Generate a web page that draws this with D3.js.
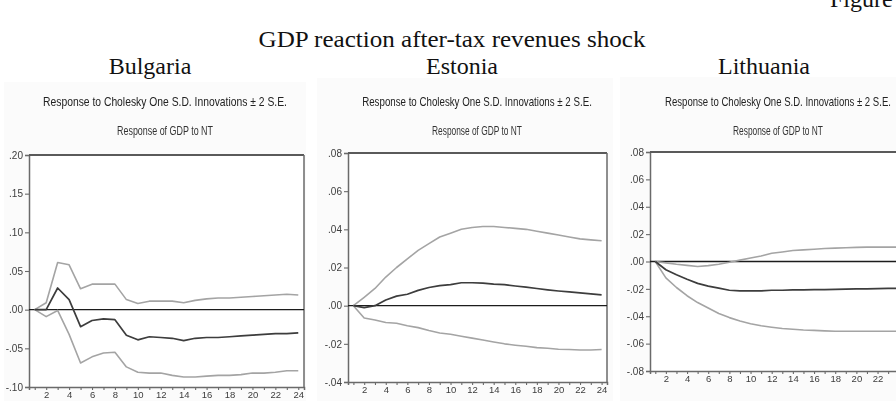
<!DOCTYPE html>
<html>
<head>
<meta charset="utf-8">
<script src="https://cdn.jsdelivr.net/npm/d3@7"></script>
<style>
  html, body { margin: 0; padding: 0; background: #fff; }
  svg { display: block; }
</style>
</head>
<body>
<svg id="fig" width="896" height="401"></svg>
<script>
// Impulse response horizon (periods)
const periods = [1,2,3,4,5,6,7,8,9,10,11,12,13,14,15,16,17,18,19,20,21,22,23,24];

// Bulgaria: response of GDP to NT with +/- 2 S.E. bands
const bgResponse = [0.000,0.000,0.028,0.013,-0.022,-0.014,-0.012,-0.013,-0.033,-0.039,-0.035,-0.036,-0.037,-0.040,-0.037,-0.036,-0.036,-0.035,-0.034,-0.033,-0.032,-0.031,-0.031,-0.030];
const bgUpper    = [0.000,0.009,0.061,0.058,0.027,0.033,0.033,0.033,0.013,0.008,0.011,0.011,0.011,0.009,0.012,0.014,0.015,0.015,0.016,0.017,0.018,0.019,0.020,0.019];
const bgLower    = [0.000,-0.009,-0.001,-0.032,-0.069,-0.061,-0.056,-0.055,-0.074,-0.081,-0.082,-0.082,-0.085,-0.087,-0.087,-0.086,-0.085,-0.085,-0.084,-0.082,-0.082,-0.081,-0.079,-0.079];

// Estonia
const eeResponse = [0.000,-0.001,0.000,0.003,0.005,0.006,0.008,0.0095,0.0105,0.011,0.012,0.012,0.0118,0.0113,0.011,0.0103,0.0097,0.009,0.0083,0.0077,0.0072,0.0067,0.0062,0.0057];
const eeUpper    = [0.000,0.0044,0.009,0.015,0.020,0.0245,0.029,0.0325,0.036,0.038,0.040,0.041,0.0415,0.0415,0.041,0.0405,0.040,0.039,0.038,0.037,0.036,0.035,0.0345,0.034];
const eeLower    = [0.000,-0.0065,-0.0075,-0.0088,-0.0092,-0.0105,-0.0115,-0.013,-0.0143,-0.015,-0.016,-0.017,-0.018,-0.019,-0.020,-0.0207,-0.0213,-0.022,-0.0223,-0.0228,-0.023,-0.0232,-0.0232,-0.023];

// Lithuania
const ltResponse = [0.000,-0.006,-0.0097,-0.013,-0.016,-0.018,-0.0195,-0.021,-0.0215,-0.0215,-0.0215,-0.021,-0.021,-0.0208,-0.0207,-0.0205,-0.0205,-0.0203,-0.0202,-0.020,-0.020,-0.0198,-0.0197,-0.0197];
const ltUpper    = [0.000,-0.001,-0.002,-0.0028,-0.0036,-0.003,-0.002,-0.0006,0.001,0.0025,0.004,0.006,0.007,0.008,0.0085,0.009,0.0095,0.0098,0.010,0.0103,0.0105,0.0105,0.0105,0.0105];
const ltLower    = [0.000,-0.012,-0.019,-0.025,-0.030,-0.034,-0.038,-0.041,-0.0435,-0.0455,-0.047,-0.048,-0.049,-0.0495,-0.050,-0.0503,-0.0507,-0.051,-0.051,-0.051,-0.051,-0.051,-0.051,-0.051];

// Axis tick values and their labels
const xTickLabels = [2,4,6,8,10,12,14,16,18,20,22,24];
const ltXTickLabels = [2,4,6,8,10,12,14,16,18,20,22];
const bgYTicks = [0.20,0.15,0.10,0.05,0.00,-0.05,-0.10];
const bgYLabels = [".20",".15",".10",".05",".00","-.05","-.10"];
const eeYTicks = [0.08,0.06,0.04,0.02,0.00,-0.02,-0.04];
const eeYLabels = [".08",".06",".04",".02",".00","-.02","-.04"];
const ltYTicks = [0.08,0.06,0.04,0.02,0.00,-0.02,-0.04,-0.06,-0.08];
const ltYLabels = [".08",".06",".04",".02",".00","-.02","-.04","-.06","-.08"];

const countries = ["Bulgaria","Estonia","Lithuania"];
const headerText = "Response to Cholesky One S.D. Innovations \u00b1 2 S.E.";
const subHeaderText = "Response of GDP to NT";

const svg = d3.select("#fig");

// Centered text squeezed/stretched horizontally to a given width
function fitText(parent, str, cx, baseline, width, attrs) {
  const t = parent.append("text").attr("text-anchor", "middle").text(str);
  Object.entries(attrs).forEach(([k, v]) => t.attr(k, v));
  const natural = t.node().getComputedTextLength();
  t.attr("transform", `translate(${cx},${baseline}) scale(${width / natural},1)`);
  return t;
}

// Page captions (serif)
const serif = "'Liberation Serif','Times New Roman',serif";
svg.append("text").attr("x", 830).attr("y", 7)
  .attr("font-family", serif).attr("font-size", 24).attr("fill", "#111")
  .text("Figure");
fitText(svg, "GDP reaction after-tax revenues shock", 452, 47, 387,
  { "font-family": serif, "font-size": 24, "fill": "#111" });

// Panel geometry
const panels = [
  { name: countries[0], label: 150, left: 29,  right: 304, top: 155, bottom: 387,
    yDomain: [-0.10, 0.20], yTicks: bgYTicks, yLabels: bgYLabels, xLabels: xTickLabels,
    resp: bgResponse, up: bgUpper, lo: bgLower, hdrX: 165, hdrW: 244, subW: 96, bg: [4, 82, 302] },
  { name: countries[1], label: 462, left: 348, right: 607, top: 153, bottom: 382,
    yDomain: [-0.04, 0.08], yTicks: eeYTicks, yLabels: eeYLabels, xLabels: xTickLabels,
    resp: eeResponse, up: eeUpper, lo: eeLower, hdrX: 477, hdrW: 230, subW: 90, bg: [317, 78, 296] },
  { name: countries[2], label: 764, left: 650, right: 904, top: 152, bottom: 371,
    yDomain: [-0.08, 0.08], yTicks: ltYTicks, yLabels: ltYLabels, xLabels: ltXTickLabels,
    resp: ltResponse, up: ltUpper, lo: ltLower, hdrX: 778, hdrW: 226, subW: 90, bg: [620, 77, 276] }
];

// Soft rendering for the EViews panels
const defs = svg.append("defs");
defs.append("filter").attr("id", "soft").attr("x", "-5%").attr("y", "-5%")
  .attr("width", "110%").attr("height", "110%")
  .append("feGaussianBlur").attr("stdDeviation", 0.45);

const sans = "'Liberation Sans','Arial',sans-serif";
const narrow = "'Liberation Sans Narrow','Arial Narrow','Liberation Sans',sans-serif";

panels.forEach(p => {
  // Country caption
  svg.append("text").attr("x", p.label).attr("y", 74).attr("text-anchor", "middle")
    .attr("font-family", serif).attr("font-size", 24).attr("fill", "#111")
    .text(p.name);

  const g = svg.append("g").attr("filter", "url(#soft)");

  // faint panel background
  g.append("rect").attr("x", p.bg[0]).attr("y", p.bg[1])
    .attr("width", p.bg[2]).attr("height", 401 - p.bg[1])
    .attr("fill", "#fbfbfb");

  fitText(g, headerText, p.hdrX, 106, p.hdrW,
    { "font-family": sans, "font-size": 13, "fill": "#222" });
  fitText(g, subHeaderText, p.hdrX, 135, p.subW,
    { "font-family": sans, "font-size": 12, "fill": "#333" });

  const x = d3.scaleLinear().domain([0.5, 24.5]).range([p.left, p.right]);
  const y = d3.scaleLinear().domain(p.yDomain).range([p.bottom, p.top]);

  // plot area
  g.append("rect").attr("x", p.left).attr("y", p.top)
    .attr("width", Math.min(p.right, 896) - p.left).attr("height", p.bottom - p.top)
    .attr("fill", "#fff");

  // Y axis
  const yAxis = d3.axisLeft(y).tickValues(p.yTicks)
    .tickFormat((d, i) => p.yLabels[i]).tickSize(4).tickPadding(2);
  const ya = g.append("g").attr("transform", `translate(${p.left},0)`).call(yAxis);
  ya.select(".domain").attr("stroke", "#6a6a6a").attr("stroke-width", 1.5);
  ya.selectAll(".tick line").attr("stroke", "#6a6a6a").attr("stroke-width", 1.1);
  ya.selectAll(".tick text").attr("font-family", narrow).attr("font-size", 10)
    .attr("fill", "#3c3c3c");

  // X axis: a tick every period, labels on even periods
  const xAxis = d3.axisBottom(x).tickValues(periods)
    .tickFormat(d => p.xLabels.includes(d) ? String(d) : "")
    .tickSize(3).tickPadding(1.5);
  const xa = g.append("g").attr("transform", `translate(0,${p.bottom})`).call(xAxis);
  xa.select(".domain").attr("stroke", "#6a6a6a").attr("stroke-width", 1.5);
  xa.selectAll(".tick line").attr("stroke", "#6a6a6a").attr("stroke-width", 1.1);
  xa.selectAll(".tick text").attr("font-family", narrow).attr("font-size", 9.5).attr("fill", "#3c3c3c");

  // frame: top and right edges
  g.append("line").attr("x1", p.left).attr("x2", p.right).attr("y1", p.top).attr("y2", p.top)
    .attr("stroke", "#5a5a5a").attr("stroke-width", 2);
  g.append("line").attr("x1", p.right).attr("x2", p.right).attr("y1", p.top).attr("y2", p.bottom)
    .attr("stroke", "#6a6a6a").attr("stroke-width", 1.5);

  // zero line
  g.append("line").attr("x1", p.left).attr("x2", p.right).attr("y1", y(0)).attr("y2", y(0))
    .attr("stroke", "#1a1a1a").attr("stroke-width", 1.3);

  const line = d3.line().x((d, i) => x(periods[i])).y(d => y(d));

  [[p.up, "#a4a4a4", 1.6], [p.lo, "#a4a4a4", 1.6], [p.resp, "#3c3c3c", 1.7]].forEach(([vals, col, w]) => {
    g.append("path").datum(vals).attr("d", line)
      .attr("fill", "none").attr("stroke", col).attr("stroke-width", w)
      .attr("stroke-linejoin", "round");
  });
});
</script>
</body>
</html>
